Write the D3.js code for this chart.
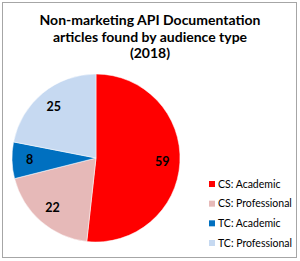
<!DOCTYPE html>
<html>
<head>
<meta charset="utf-8">
<script src="https://cdn.jsdelivr.net/npm/d3@7"></script>
<style>
  body { margin: 0; background: #fff; }
  svg { display: block; font-family: Lato, "Open Sans", sans-serif; }
</style>
</head>
<body>
<svg id="chart" width="300" height="261"></svg>
<script>
  // data
  const categories = ["CS: Academic", "CS: Professional", "TC: Academic", "TC: Professional"];
  const values = [59, 22, 8, 25];
  const colors = ["#ff0000", "#e6b9b8", "#0070c0", "#c6d9f1"];
  const titleLines = ["Non-marketing API Documentation", "articles found by audience type", "(2018)"];

  const svg = d3.select("#chart");

  // outer frame
  svg.append("rect")
    .attr("x", 2.5).attr("y", 2.5)
    .attr("width", 294).attr("height", 255)
    .attr("fill", "#fff")
    .attr("stroke", "#a6a6a6");

  // title
  svg.append("g")
    .selectAll("text")
    .data(titleLines)
    .join("text")
    .attr("x", 150)
    .attr("y", (d, i) => 25 + i * 16.5)
    .attr("text-anchor", "middle")
    .attr("font-size", 14)
    .attr("font-weight", "bold")
    .attr("fill", "#000")
    .text((d) => d);

  // pie
  const cx = 96, cy = 158, r = 84;
  const pie = d3.pie().sort(null).value((d) => d);
  const arcs = pie(values);
  const arc = d3.arc().innerRadius(0).outerRadius(r);
  const labelArc = d3.arc().innerRadius(r * 0.79).outerRadius(r * 0.79);

  const g = svg.append("g").attr("transform", `translate(${cx},${cy})`);

  g.selectAll("path")
    .data(arcs)
    .join("path")
    .attr("d", arc)
    .attr("fill", (d, i) => colors[i])
    .attr("stroke", "#fff")
    .attr("stroke-width", 0.5);

  g.selectAll("text")
    .data(arcs)
    .join("text")
    .attr("transform", (d) => `translate(${labelArc.centroid(d)})`)
    .attr("text-anchor", "middle")
    .attr("dy", "0.35em")
    .attr("font-size", 12.5)
    .attr("font-weight", "bold")
    .attr("fill", "#000")
    .text((d) => d.data);

  // legend
  const y = d3.scalePoint().domain(categories).range([184, 243]);
  const legend = svg.append("g")
    .selectAll("g")
    .data(categories)
    .join("g")
    .attr("transform", (d) => `translate(209,${y(d)})`);

  legend.append("rect")
    .attr("x", 0).attr("y", -3)
    .attr("width", 6).attr("height", 6)
    .attr("fill", (d, i) => colors[i]);

  legend.append("text")
    .attr("x", 9)
    .attr("dy", "0.35em")
    .attr("font-size", 10.5)
    .attr("fill", "#000")
    .text((d) => d);
</script>
</body>
</html>
